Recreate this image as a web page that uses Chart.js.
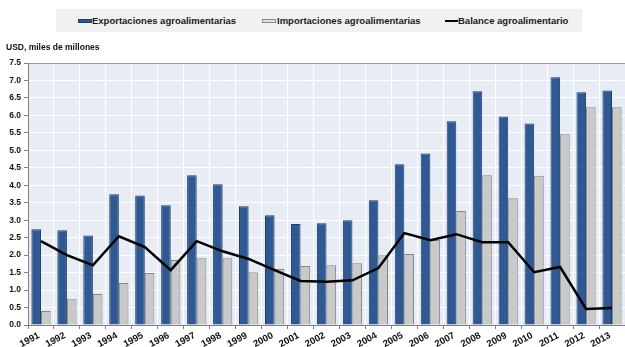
<!DOCTYPE html>
<html><head><meta charset="utf-8">
<script src="https://cdn.jsdelivr.net/npm/chart.js@4.4.1/dist/chart.umd.min.js"></script>
<style>
html,body{margin:0;padding:0;background:#fff;}
#wrap{position:relative;width:625px;height:347px;overflow:hidden;font-family:'Liberation Sans',Arial,sans-serif;}
#c{position:absolute;left:0;top:0;}
#legend{position:absolute;left:56px;top:9px;width:526px;height:23px;background:#f1f1f1;}
.item{position:absolute;top:0;height:23px;line-height:23px;font-size:9.5px;font-weight:bold;color:#1a1a1a;white-space:nowrap;}
.sw{position:absolute;box-sizing:border-box;}
#unit{position:absolute;left:6px;top:42px;font-size:8.5px;font-weight:bold;color:#111;white-space:nowrap;}
</style></head><body>
<div id="wrap"><canvas id="c" width="625" height="347"></canvas>
<div id="legend"></div><div id="unit">USD, miles de millones</div></div>
<script>
const years = ['1991','1992','1993','1994','1995','1996','1997','1998','1999','2000','2001','2002','2003','2004','2005','2006','2007','2008','2009','2010','2011','2012','2013'];
const exportaciones = [2.74,2.71,2.56,3.74,3.71,3.43,4.29,4.03,3.40,3.14,2.89,2.91,3.00,3.57,4.60,4.91,5.83,6.69,5.97,5.77,7.09,6.66,6.71];
const importaciones = [0.40,0.74,0.89,1.20,1.49,1.86,1.91,1.91,1.51,1.60,1.69,1.71,1.77,2.00,2.03,2.43,3.26,4.29,3.63,4.27,5.46,6.23,6.23];
const balance = [2.40,2.00,1.71,2.54,2.23,1.57,2.40,2.11,1.89,1.57,1.26,1.24,1.28,1.63,2.63,2.43,2.60,2.37,2.37,1.51,1.66,0.46,0.49];
const seriesNames = ['Exportaciones agroalimentarias','Importaciones agroalimentarias','Balance agroalimentario'];
const yTicks = [0,0.5,1,1.5,2,2.5,3,3.5,4,4.5,5,5.5,6,6.5,7,7.5];

const FONT = "'Liberation Sans', Arial, sans-serif";
const C_EXP = '#2f5992', C_EXP_B = '#1f3d6b';
const C_IMP = '#c9c9c9', C_IMP_B = '#858585';

// HTML legend
const leg = document.getElementById('legend');
const legDefs = [
  {sw:{left:21.5,top:9.5,width:14,height:4,background:C_EXP,border:'1px solid '+C_EXP_B}, tx:36},
  {sw:{left:205.5,top:9.5,width:14,height:4,background:'#e4e4e4',border:'1px solid '+C_IMP_B}, tx:221},
  {sw:{left:389,top:10.5,width:13,height:2.5,background:'#000'}, tx:402}
];
legDefs.forEach((d,i)=>{
  const s=document.createElement('div'); s.className='sw';
  s.style.left=d.sw.left+'px'; s.style.top=d.sw.top+'px'; s.style.width=d.sw.width+'px'; s.style.height=d.sw.height+'px';
  s.style.background=d.sw.background; if(d.sw.border) s.style.border=d.sw.border;
  leg.appendChild(s);
  const t=document.createElement('div'); t.className='item'; t.style.left=d.tx+'px'; t.textContent=seriesNames[i];
  leg.appendChild(t);
});

const bgPlugin = {id:'bg', beforeDraw(chart){const {ctx,chartArea:a}=chart; ctx.save(); ctx.fillStyle='#e8ecf5'; ctx.fillRect(a.left,a.top,a.right-a.left,a.bottom-a.top); ctx.restore();}};

new Chart(document.getElementById('c'), {
  data: {
    labels: years,
    datasets: [
      {type:'line', label:seriesNames[2], data:balance, borderColor:'#000', borderWidth:2.5, pointRadius:0, tension:0, order:0, fill:false},
      {type:'bar', label:seriesNames[0], data:exportaciones, backgroundColor:C_EXP, borderColor:C_EXP_B, borderWidth:1, order:1, categoryPercentage:0.74, barPercentage:1.0},
      {type:'bar', label:seriesNames[1], data:importaciones, backgroundColor:C_IMP, borderColor:C_IMP_B, borderWidth:1, order:1, categoryPercentage:0.74, barPercentage:1.0}
    ]
  },
  options: {
    responsive:false, animation:false, devicePixelRatio:1,
    layout:{padding:{top:63,left:0,right:-5,bottom:0}},
    plugins:{legend:{display:false}, tooltip:{enabled:false}},
    scales:{
      x:{
        offset:true,
        grid:{color:'#ffffff', tickColor:'#808080', tickLength:4, offset:true, lineWidth:1},
        border:{color:'#808080'},
        ticks:{font:{family:FONT,size:9.5,weight:'bold'}, color:'#111', minRotation:28, maxRotation:28, autoSkip:false, padding:1, labelOffset:-2},
        afterFit(s){s.height=22;}
      },
      y:{
        min:0, max:7.5,
        afterBuildTicks(s){s.ticks=yTicks.map(v=>({value:v}));},
        grid:{color:(c)=> (c.tick && c.tick.value===7.5) ? '#9a9a9a' : '#ffffff', tickColor:'#808080', tickLength:4, lineWidth:1},
        border:{color:'#808080'},
        ticks:{font:{family:FONT,size:8.5,weight:'bold'}, color:'#111', padding:3, callback:(v)=>Number(v).toFixed(1)},
        afterFit(s){s.width=28;}
      }
    }
  },
  plugins:[bgPlugin]
});
</script>
</body></html>
